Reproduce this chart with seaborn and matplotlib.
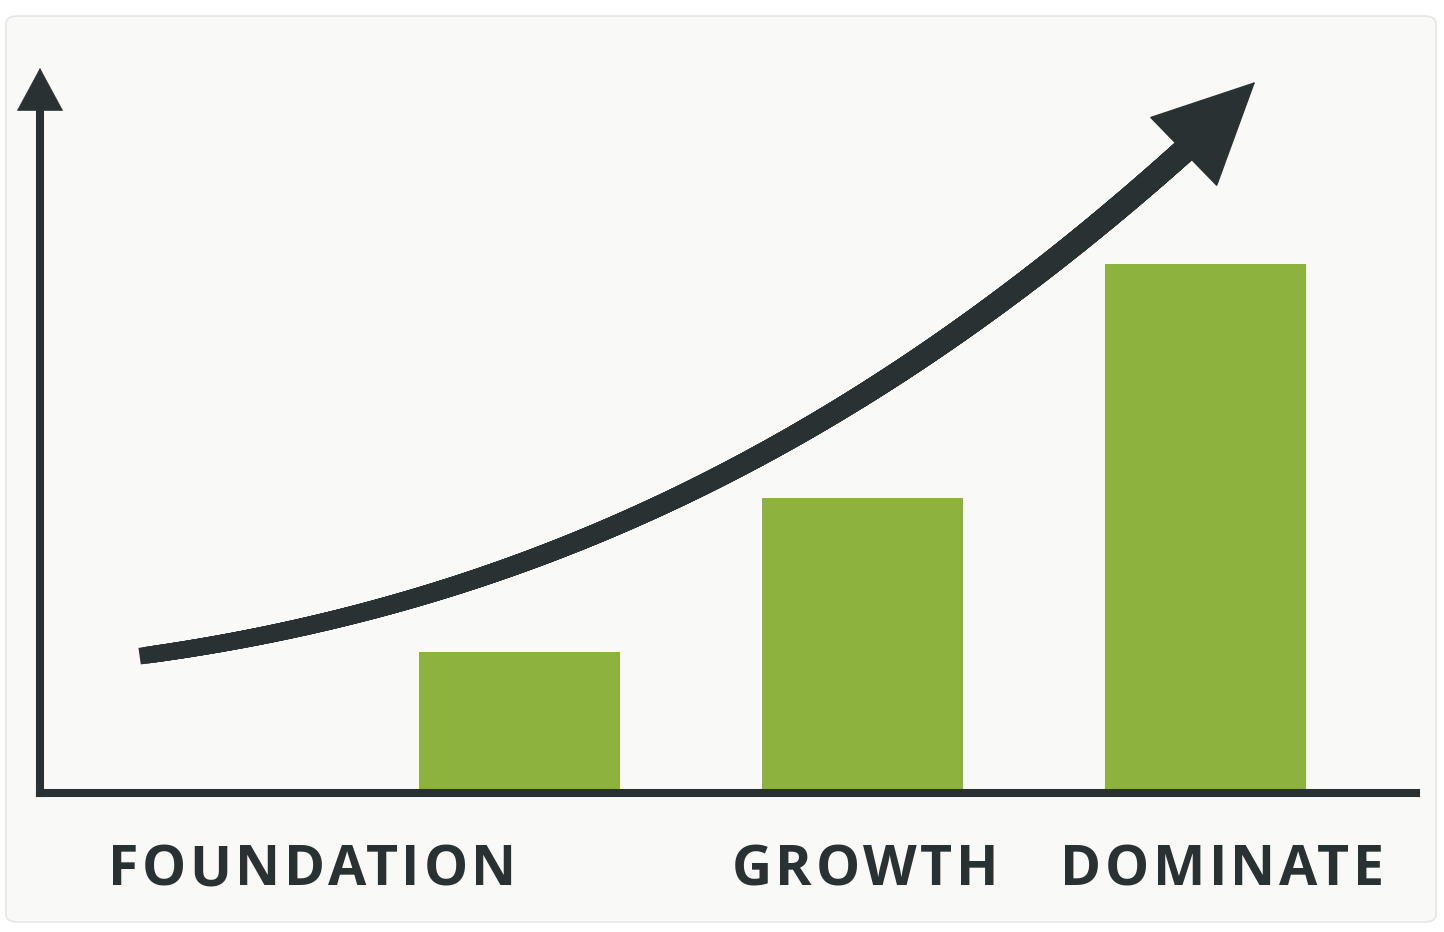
import matplotlib
matplotlib.use("Agg")
import numpy as np
import matplotlib.pyplot as plt
from matplotlib.patches import FancyBboxPatch
from matplotlib.collections import LineCollection
from matplotlib.font_manager import FontProperties
import seaborn as sns

# %% Datos del gráfico
etapas = ["FOUNDATION", "GROWTH", "DOMINATE"]
valores = [1.41, 2.95, 5.29]

# curva de tendencia: puntos de control (Bezier cúbica), en unidades de los datos
control_x = [-1.082, 0.026, 0.985, 1.948]
control_y = [1.38, 1.91, 3.48, 6.45]
punta_flecha = (2.146, 7.11)

# centro de las etiquetas en píxeles de la figura (no coinciden con las barras)
etiquetas_px = [312, 865, 1222]

oscuro = "#293133"
verde = "#8db33e"


# %% Funciones auxiliares
def bezier(xs, ys, n=300):
    t = np.linspace(0, 1, n)[:, None]
    p = np.column_stack([xs, ys])
    return ((1 - t) ** 3 * p[0] + 3 * t * (1 - t) ** 2 * p[1]
            + 3 * t ** 2 * (1 - t) * p[2] + t ** 3 * p[3])


def texto_espaciado(fig, renderer, cx, base_y, texto, tracking, fp, color):
    # matplotlib no tiene letter-spacing: se ubica cada letra por separado
    def ancho(s):
        return renderer.get_text_width_height_descent(s, fp, ismath=False)[0]
    total = ancho(texto) + tracking * (len(texto) - 1)
    x0 = cx - total / 2
    for i, c in enumerate(texto):
        izq = ancho(texto[:i + 1]) - ancho(c) + tracking * i
        fig.text((x0 + izq) / W, base_y / H, c, ha="left", va="baseline",
                 fontproperties=fp, color=color)


# %% Figura
sns.set_style("white")
plt.rcParams["font.family"] = ["Open Sans", "DejaVu Sans"]

W, H = 1444, 932
fig = plt.figure(figsize=(W / 100, H / 100), dpi=100, facecolor="white")

# panel de fondo con bordes redondeados
panel = FancyBboxPatch((6 / W, 10 / H), 1430 / W, 906 / H,
                       boxstyle="round,pad=0,rounding_size=0.008",
                       transform=fig.transFigure, facecolor="#f9f9f7",
                       edgecolor="#e6e6e6", linewidth=1.2, zorder=-10)
fig.patches.append(panel)

ax = fig.add_axes([40 / W, (H - 793) / H, 1376 / W, 683 / H])
ax.set_facecolor("none")

sns.barplot(x=etapas, y=valores, color=verde, saturation=1, width=0.586,
            linewidth=0, ax=ax, zorder=2)

ax.set_xlim(-1.3965, 2.615)
ax.set_ylim(0, 6.83)
ax.set_xticks([])
ax.set_yticks([])
ax.set_xlabel("")
ax.set_ylabel("")
sns.despine(ax=ax, top=True, right=True)
for lado in ["left", "bottom"]:
    ax.spines[lado].set_color(oscuro)
    ax.spines[lado].set_linewidth(5.8)
    ax.spines[lado].set_zorder(3)
    ax.spines[lado].set_capstyle("projecting")

# flecha del eje y
ax.annotate("", xy=(0, 1 + 42 / 683), xytext=(0, 0.98), xycoords="axes fraction",
            arrowprops=dict(arrowstyle="-|>,head_length=1.5,head_width=0.81",
                            mutation_scale=20, color=oscuro, lw=0.5,
                            shrinkA=0, shrinkB=0),
            annotation_clip=False)

# curva de crecimiento, un poco más gruesa hacia la punta
curva = bezier(control_x, control_y)
segmentos = np.stack([curva[:-1], curva[1:]], axis=1)
grosores = np.linspace(12, 17.5, len(segmentos))
lc = LineCollection(segmentos, linewidths=grosores, colors=oscuro,
                    capstyle="projecting", zorder=4, clip_on=False)
ax.add_collection(lc)
ax.annotate("", xy=punta_flecha, xytext=(control_x[-1], control_y[-1]),
            arrowprops=dict(arrowstyle="-|>,head_length=1.41,head_width=0.68",
                            mutation_scale=50, color=oscuro, lw=1,
                            shrinkA=0, shrinkB=0),
            annotation_clip=False, zorder=5)

# etiquetas de las etapas, con espaciado entre letras
fp = FontProperties(family=["Open Sans", "DejaVu Sans"], weight="bold", size=40)
renderer = fig.canvas.get_renderer()
for cx, texto in zip(etiquetas_px, etapas):
    texto_espaciado(fig, renderer, cx, H - 885, texto, 3.6, fp, oscuro)

fig.savefig("out.png", dpi=100, facecolor="white")
